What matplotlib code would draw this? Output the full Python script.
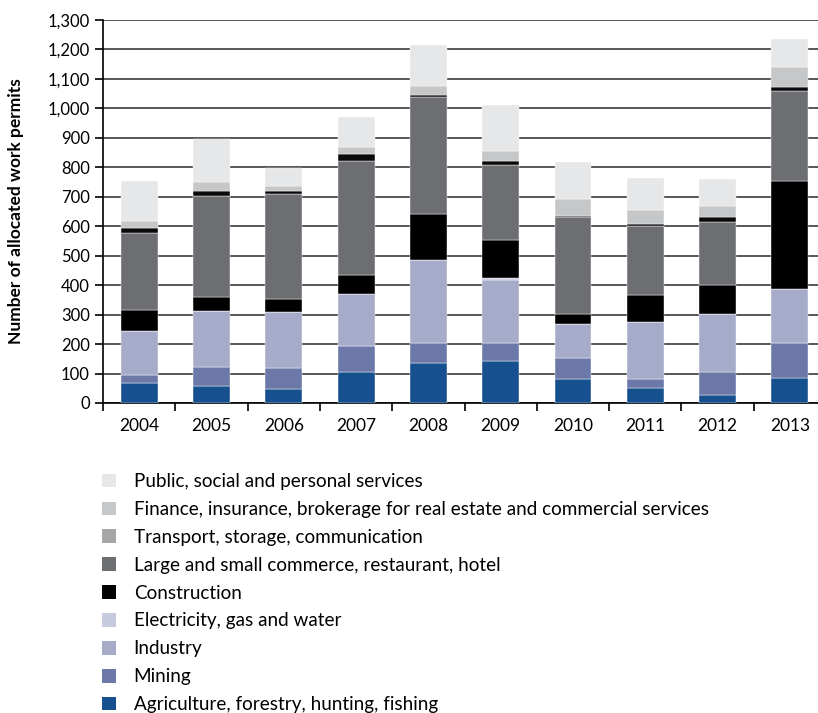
import matplotlib.pyplot as plt
import numpy as np
from matplotlib.patches import Patch
from matplotlib.ticker import FuncFormatter

# Данные
years = ['2004', '2005', '2006', '2007', '2008', '2009', '2010', '2011', '2012', '2013']

agriculture = [68, 57, 48, 105, 135, 142, 82, 50, 26, 86]
mining = [26, 64, 70, 90, 67, 60, 69, 33, 79, 119]
industry = [152, 190, 191, 176, 285, 215, 117, 191, 197, 183]
electricity = [0, 0, 0, 0, 0, 8, 0, 0, 0, 0]
construction = [69, 48, 44, 62, 153, 128, 34, 92, 98, 365]
commerce = [263, 345, 358, 387, 400, 254, 329, 235, 214, 305]
transport = [15, 14, 7, 24, 4, 16, 2, 7, 17, 14]
finance = [24, 33, 17, 25, 32, 33, 58, 47, 37, 68]
public = [138, 146, 63, 100, 138, 154, 128, 108, 91, 94]

labels = [
    'Agriculture, forestry, hunting, fishing',
    'Mining',
    'Industry',
    'Electricity, gas and water',
    'Construction',
    'Large and small commerce, restaurant, hotel',
    'Transport, storage, communication',
    'Finance, insurance, brokerage for real estate and commercial services',
    'Public, social and personal services',
]
series = [agriculture, mining, industry, electricity, construction,
          commerce, transport, finance, public]

# цвета в легенде
legend_colors = ['#17508e', '#6b78a8', '#a7abca', '#c8cadf', '#000000',
                 '#6d6e71', '#a6a6a8', '#c6c7c9', '#e6e7e8']
# в столбцах транспорт нарисован почти чёрным
bar_colors = list(legend_colors)
bar_colors[6] = '#0a0a0a'

plt.rcParams['font.family'] = ['Lato', 'DejaVu Sans']

fig = plt.figure(figsize=(8.18, 7.13), dpi=100)
ax = fig.add_axes([0.126, 0.4348, 0.874, 0.5372])

x = np.arange(len(years))
bottom = np.zeros(len(years))
for vals, col in zip(series, bar_colors):
    ax.bar(x, vals, width=0.51, bottom=bottom, color=col,
           edgecolor='white', linewidth=0.3, zorder=3)
    bottom += np.array(vals)

ax.set_ylim(0, 1300)
ax.set_yticks(np.arange(0, 1301, 100))
ax.yaxis.set_major_formatter(FuncFormatter(lambda v, p: f'{int(v):,}'))
ax.grid(axis='y', color='#3a3a3a', linewidth=1.2, zorder=0)

ax.set_xlim(-0.5, 9.39)
ax.set_xticks(x)
ax.set_xticklabels(years)
ax.tick_params(axis='x', length=0, labelsize=12.5, pad=11)
ax.set_xticks(np.arange(-0.5, 9.5, 1), minor=True)
ax.tick_params(axis='x', which='minor', length=6, width=1.2, direction='out')
ax.tick_params(axis='y', length=6, width=1.2, labelsize=12, direction='out')

for s in ['top', 'right']:
    ax.spines[s].set_visible(False)
ax.spines['left'].set_linewidth(1.2)
ax.spines['bottom'].set_linewidth(1.2)

ax.set_ylabel('Number of allocated work permits', fontsize=12.5,
              fontweight='bold', labelpad=17)

handles = [Patch(facecolor=c, edgecolor='none') for c in legend_colors[::-1]]
fig.legend(handles, labels[::-1], loc='upper left',
           bbox_to_anchor=(0.115, 0.347), frameon=False, fontsize=13.6,
           handlelength=0.75, handleheight=0.75, handletextpad=0.95,
           labelspacing=0.575, borderaxespad=0)

fig.savefig('out.png', dpi=100)
